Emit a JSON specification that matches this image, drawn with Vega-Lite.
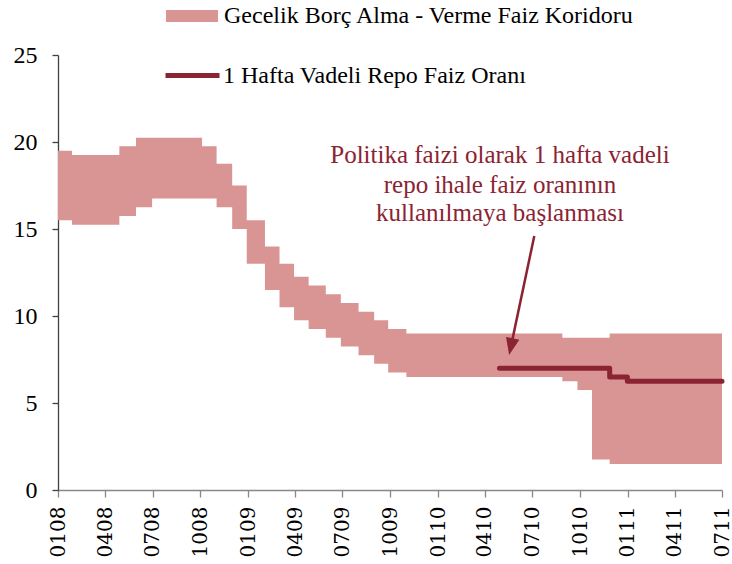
{
  "$schema": "https://vega.github.io/schema/vega-lite/v6.json",
  "width": 664,
  "height": 435,
  "autosize": {"type": "none"},
  "padding": {"left": 58, "top": 55, "right": 10, "bottom": 74},
  "background": "white",
  "config": {"view": {"stroke": null}, "axis": {"grid": false}},
  "datasets": {
    "corridor": [
      {"date": "2008/01/01", "upper": 19.5, "lower": 15.5},
      {"date": "2008/01/28", "upper": 19.25, "lower": 15.25},
      {"date": "2008/04/28", "upper": 19.75, "lower": 15.75},
      {"date": "2008/05/30", "upper": 20.25, "lower": 16.25},
      {"date": "2008/06/30", "upper": 20.25, "lower": 16.75},
      {"date": "2008/10/04", "upper": 19.75, "lower": 16.75},
      {"date": "2008/11/01", "upper": 18.75, "lower": 16.25},
      {"date": "2008/12/01", "upper": 17.5, "lower": 15.0},
      {"date": "2008/12/29", "upper": 15.5, "lower": 13.0},
      {"date": "2009/02/02", "upper": 14.0, "lower": 11.5},
      {"date": "2009/03/02", "upper": 13.0, "lower": 10.5},
      {"date": "2009/03/30", "upper": 12.25, "lower": 9.75},
      {"date": "2009/04/27", "upper": 11.75, "lower": 9.25},
      {"date": "2009/05/30", "upper": 11.25, "lower": 8.75},
      {"date": "2009/06/28", "upper": 10.75, "lower": 8.25},
      {"date": "2009/08/01", "upper": 10.25, "lower": 7.75},
      {"date": "2009/08/31", "upper": 9.75, "lower": 7.25},
      {"date": "2009/09/27", "upper": 9.25, "lower": 6.75},
      {"date": "2009/11/01", "upper": 9.0, "lower": 6.5},
      {"date": "2010/08/28", "upper": 8.75, "lower": 6.25},
      {"date": "2010/09/26", "upper": 8.75, "lower": 5.75},
      {"date": "2010/10/24", "upper": 8.75, "lower": 1.75},
      {"date": "2010/11/27", "upper": 9.0, "lower": 1.5},
      {"date": "2011/07/01", "upper": 9.0, "lower": 1.5}
    ],
    "repo": [
      {"date": "2010/04/29", "rate": 7.0},
      {"date": "2010/11/27", "rate": 6.5},
      {"date": "2010/12/31", "rate": 6.25},
      {"date": "2011/07/01", "rate": 6.25}
    ],
    "note": [
      {"date": "2010/04/30", "value": 18.78, "label": "Politika faizi olarak 1 hafta vadeli"},
      {"date": "2010/04/30", "value": 17.09, "label": "repo ihale faiz oranının"},
      {"date": "2010/04/30", "value": 15.48, "label": "kullanılmaya başlanması"}
    ],
    "arrow": [
      {"start": "2010/07/05", "from": 14.6, "end": "2010/05/21", "to": 8.24}
    ]
  },
  "layer": [
    {
      "data": {"name": "corridor"},
      "mark": {"type": "area", "interpolate": "step-after", "opacity": 1},
      "encoding": {
        "x": {
          "field": "date",
          "type": "temporal",
          "scale": {"domain": [{"year": 2008, "month": 1, "date": 1}, {"year": 2011, "month": 7, "date": 1}]},
          "axis": {
            "title": null,
            "values": [
              {"year": 2008, "month": 1, "date": 1}, {"year": 2008, "month": 4, "date": 1},
              {"year": 2008, "month": 7, "date": 1}, {"year": 2008, "month": 10, "date": 1},
              {"year": 2009, "month": 1, "date": 1}, {"year": 2009, "month": 4, "date": 1},
              {"year": 2009, "month": 7, "date": 1}, {"year": 2009, "month": 10, "date": 1},
              {"year": 2010, "month": 1, "date": 1}, {"year": 2010, "month": 4, "date": 1},
              {"year": 2010, "month": 7, "date": 1}, {"year": 2010, "month": 10, "date": 1},
              {"year": 2011, "month": 1, "date": 1}, {"year": 2011, "month": 4, "date": 1},
              {"year": 2011, "month": 7, "date": 1}
            ],
            "format": "%m%y",
            "labelAngle": -90,
            "labelFont": "DejaVu Serif",
            "labelFontSize": 20,
            "labelColor": "black",
            "labelPadding": 9,
            "labelOverlap": false,
            "labelFlush": false,
            "labelBound": false,
            "tickSize": 7,
            "tickColor": "#888888",
            "domainColor": "#888888",
            "domainWidth": 1.3,
            "tickWidth": 1.3,
            "grid": false
          }
        },
        "y": {
          "field": "upper",
          "type": "quantitative",
          "scale": {"domain": [0, 25], "nice": false, "zero": true},
          "axis": {
            "title": null,
            "values": [0, 5, 10, 15, 20, 25],
            "labelFont": "Liberation Serif",
            "labelFontSize": 24,
            "labelColor": "black",
            "labelPadding": 15,
            "tickSize": 6,
            "tickColor": "#404040",
            "domainColor": "#404040",
            "domainWidth": 1.3,
            "tickWidth": 1.3,
            "grid": false
          }
        },
        "y2": {"field": "lower"},
        "fill": {
          "datum": "Gecelik Borç Alma - Verme Faiz Koridoru",
          "type": "nominal",
          "scale": {"range": ["#D99594"]},
          "legend": {
            "orient": "none",
            "legendX": 108,
            "legendY": -65,
            "title": null,
            "padding": 0,
            "symbolType": "M-1,-0.23H1V0.23H-1Z",
            "symbolSize": 2704,
            "symbolStrokeWidth": 0,
            "symbolOpacity": 1,
            "labelFont": "Liberation Serif",
            "labelFontSize": 24,
            "labelColor": "black",
            "labelOffset": 6,
            "labelLimit": 600
          }
        }
      }
    },
    {
      "data": {"name": "repo"},
      "mark": {"type": "line", "interpolate": "step-after", "strokeWidth": 5, "strokeCap": "round", "strokeJoin": "round"},
      "encoding": {
        "x": {"field": "date", "type": "temporal"},
        "y": {"field": "rate", "type": "quantitative"},
        "stroke": {
          "datum": "1 Hafta Vadeli Repo Faiz Oranı",
          "type": "nominal",
          "scale": {"range": ["#8B2332"]},
          "legend": {
            "orient": "none",
            "legendX": 105,
            "legendY": -9,
            "title": null,
            "padding": 0,
            "symbolType": "stroke",
            "symbolSize": 2916,
            "symbolStrokeWidth": 5,
            "labelFont": "Liberation Serif",
            "labelFontSize": 24,
            "labelColor": "black",
            "labelOffset": 1,
            "labelLimit": 600
          }
        }
      }
    },
    {
      "data": {"name": "arrow"},
      "mark": {"type": "rule", "strokeWidth": 2.5, "color": "#8B2332"},
      "encoding": {
        "x": {"field": "start", "type": "temporal"},
        "y": {"field": "from", "type": "quantitative"},
        "x2": {"field": "end"},
        "y2": {"field": "to"}
      }
    },
    {
      "data": {"name": "arrow"},
      "mark": {"type": "point", "shape": "M-0.8,-1L0.8,-1L0,1Z", "size": 289, "angle": 12, "filled": true, "color": "#8B2332", "opacity": 1},
      "encoding": {
        "x": {"field": "end", "type": "temporal"},
        "y": {"field": "to", "type": "quantitative"}
      }
    },
    {
      "data": {"name": "note"},
      "mark": {"type": "text", "font": "Liberation Serif", "fontSize": 25, "color": "#8B2332", "align": "center", "baseline": "alphabetic"},
      "encoding": {
        "x": {"field": "date", "type": "temporal"},
        "y": {"field": "value", "type": "quantitative"},
        "text": {"field": "label"}
      }
    }
  ]
}
